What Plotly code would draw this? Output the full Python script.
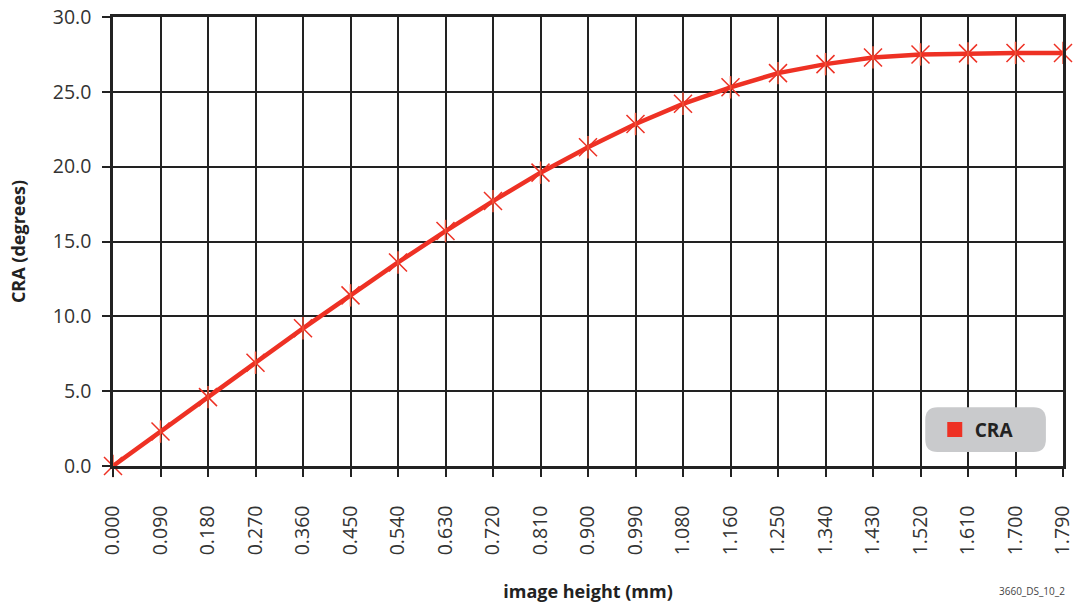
import plotly.graph_objects as go

# image height (mm) categories and chief ray angle (degrees)
heights = ["0.000", "0.090", "0.180", "0.270", "0.360", "0.450", "0.540", "0.630",
           "0.720", "0.810", "0.900", "0.990", "1.080", "1.160", "1.250", "1.340",
           "1.430", "1.520", "1.610", "1.700", "1.790"]
cra = [0.0, 2.3, 4.6, 6.9, 9.2, 11.4, 13.6, 15.7, 17.7, 19.6, 21.3, 22.85,
       24.2, 25.3, 26.25, 26.85, 27.3, 27.5, 27.57, 27.6, 27.6]
y_ticks = [0, 5, 10, 15, 20, 25, 30]

RED = "#ee3124"
INK = "#222222"
FONT = "Open Sans"

fig = go.Figure()
fig.add_trace(go.Scatter(
    x=heights, y=cra, mode="lines+markers", name="CRA", showlegend=False,
    line=dict(color=RED, width=4.5),
    marker=dict(symbol="x-thin-open", size=18, line=dict(color=RED, width=1.5)),
    cliponaxis=False,
))
# vertical arm of the asterisk markers
fig.add_trace(go.Scatter(
    x=heights, y=cra, mode="markers", showlegend=False, hoverinfo="skip",
    marker=dict(symbol="line-ns-open", size=16, line=dict(color=RED, width=1.5)),
    cliponaxis=False,
))
# legend entry: a plain red square
fig.add_trace(go.Scatter(
    x=[None], y=[None], mode="markers", name="CRA",
    marker=dict(symbol="square", size=15, color=RED),
))

# rounded grey legend box (paper coords)
x0, x1, y0, y1 = 0.855, 0.982, 0.031, 0.131
rx, ry = 0.013, 0.028
box = (f"M {x0+rx},{y0} L {x1-rx},{y0} Q {x1},{y0} {x1},{y0+ry} "
       f"L {x1},{y1-ry} Q {x1},{y1} {x1-rx},{y1} L {x0+rx},{y1} "
       f"Q {x0},{y1} {x0},{y1-ry} L {x0},{y0+ry} Q {x0},{y0} {x0+rx},{y0} Z")
fig.add_shape(type="path", path=box, xref="paper", yref="paper",
              fillcolor="#c9cacc", line=dict(width=0), layer="above")

fig.update_layout(
    width=1091, height=606,
    margin=dict(l=113, r=28, t=17, b=140),
    paper_bgcolor="white", plot_bgcolor="white",
    font=dict(family=FONT, color="#333333", size=18),
    legend=dict(x=0.865, y=0.081, xanchor="left", yanchor="middle",
                bgcolor="rgba(0,0,0,0)", font=dict(size=19, color="#222222", family=FONT, weight="bold"),
                itemwidth=30),
    showlegend=True,
)
fig.update_xaxes(
    type="category", categoryorder="array", categoryarray=heights,
    range=[0, len(heights) - 1], tickangle=-90, automargin=False,
    showgrid=True, gridcolor=INK, gridwidth=1.5,
    showline=True, linecolor=INK, linewidth=2.5, mirror=True,
    ticks="outside", ticklen=8, tickcolor=INK, tickwidth=1.5,
    tickfont=dict(size=19.5, color="#333333"), ticklabelstandoff=21,
    ticklabeloverflow="allow",
    title=dict(text="image height (mm)", standoff=32,
               font=dict(size=18, color="#222222", family=FONT, weight="bold")),
    zeroline=False,
)
fig.update_yaxes(
    range=[0, 30], tickvals=y_ticks, ticktext=[f"{v:.1f}" for v in y_ticks],
    automargin=False,
    showgrid=True, gridcolor=INK, gridwidth=1.5,
    showline=True, linecolor=INK, linewidth=2.5, mirror=True,
    ticks="outside", ticklen=8, tickcolor=INK, tickwidth=1.5,
    tickfont=dict(size=19.5, color="#333333"), ticklabelstandoff=7,
    ticklabeloverflow="allow",
    title=dict(text="CRA (degrees)", standoff=23,
               font=dict(size=18, color="#222222", family=FONT, weight="bold")),
    zeroline=False,
)
fig.add_annotation(text="3660_DS_10_2", xref="paper", yref="paper",
                   x=1.004, y=-0.278, xanchor="right", yanchor="middle",
                   showarrow=False, font=dict(size=10, color="#444444"))

# drop the browser's default 8px body margin so the figure fills the window
fig.write_html("out.html", config={"displayModeBar": False},
               post_script="document.body.style.margin = '0';")
